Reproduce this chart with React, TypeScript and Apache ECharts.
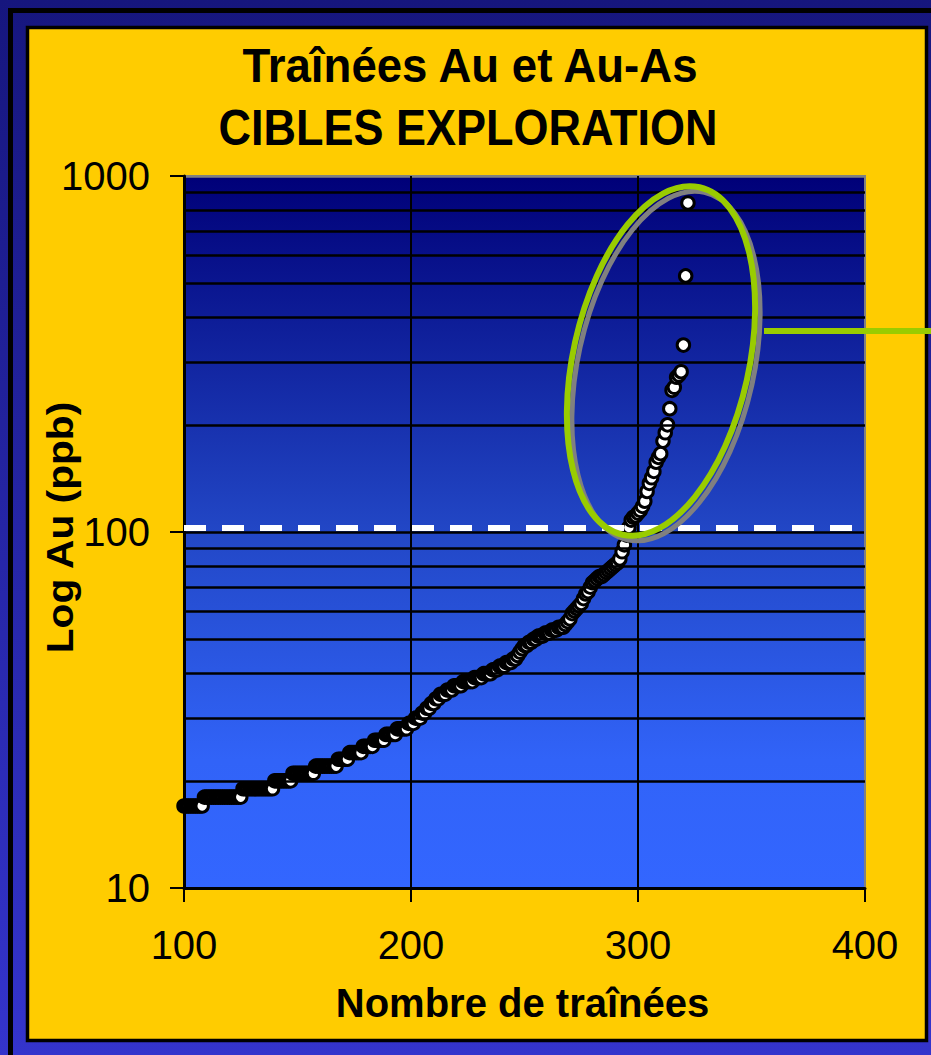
import React, { useEffect, useRef } from "react";
import * as echarts from "echarts";

// ---- data ----
const X_START = 100; // first rank on the x axis (Nombre de traînées)
const AU_LOW = [
  17, 17, 17, 17, 17, 17, 17, 17, 17,
  18, 18, 18, 18, 18, 18, 18, 18, 18, 18, 18, 18, 18, 18, 18, 18, 18,
  19, 19, 19, 19, 19, 19, 19, 19, 19, 19, 19, 19, 19, 19,
  20, 20, 20, 20, 20, 20, 20, 20,
  21, 21, 21, 21, 21, 21, 21, 21, 21, 21,
  22, 22, 22, 22, 22, 22, 22, 22, 22, 22,
];
const AU_MID = [
  23, 23, 23, 23, 23,
  24, 24, 24, 24, 24, 24,
  25, 25, 25, 25, 25,
  26, 26, 26, 26, 26,
  27, 27, 27, 27, 27,
  28, 28, 28, 28, 28,
  29, 29, 29, 30, 30, 30, 31, 31, 32, 32, 33, 33, 34, 34,
  35, 35, 35, 36, 36, 36, 37, 37, 37, 37,
  38, 38, 38, 38, 38, 39, 39, 39, 39, 40, 40, 40, 40,
  41, 41, 41, 42, 42, 42, 43, 43, 43, 44, 44, 45, 46, 47,
  48, 48, 49, 49, 50, 50, 51, 51, 51, 52, 52, 52, 53, 53, 53, 54, 54, 54,
];
const AU_HIGH = [
  55, 56, 57, 59, 60, 61, 62, 63, 65, 67,
  68, 70, 72, 73, 74, 75, 75, 76, 77, 78,
  79, 80, 81, 82, 84, 88, 92, 98, 103, 108,
  110, 111, 113, 115, 118, 122, 130, 137, 142, 148,
  157, 162, 166, 180, 190, 200, 222, 250, 255, 272,
  276, 282, 335, 524, 840,
];
const AU_PPB = [...AU_LOW, ...AU_MID, ...AU_HIGH];

const X_TICKS = [100, 200, 300, 400];
const Y_TICKS = [10, 100, 1000];
const MINOR_GRID = [20, 30, 40, 50, 60, 70, 80, 90, 200, 300, 400, 500, 600, 700, 800, 900];
const THRESHOLD = 103;

const TITLE_1 = "Traînées Au et Au-As";
const TITLE_2 = "CIBLES EXPLORATION";
const X_NAME = "Nombre de traînées";
const Y_NAME = "Log Au (ppb)";

const FONT = "'Liberation Sans', Arial, sans-serif";

export default function App() {
  const ref = useRef<HTMLDivElement>(null);

  useEffect(() => {
    if (!ref.current) return;
    const chart = echarts.init(ref.current, null, { renderer: "svg" });
    const points = AU_PPB.map((v, i) => [X_START + i, v]);

    chart.setOption({
      animation: false,
      grid: {
        left: 184,
        top: 176,
        right: 66,
        bottom: 167,
        show: true,
        borderColor: "#808080",
        borderWidth: 2,
        backgroundColor: new echarts.graphic.LinearGradient(0, 0, 0, 1, [
          { offset: 0, color: "#000078" },
          { offset: 0.5, color: "#2247c6" },
          { offset: 0.82, color: "#3163f8" },
          { offset: 1, color: "#3366ff" },
        ]),
      },
      xAxis: {
        type: "value",
        min: X_TICKS[0],
        max: X_TICKS[X_TICKS.length - 1],
        interval: 100,
        axisLine: { show: true, lineStyle: { color: "#000", width: 3 } },
        axisTick: { show: true, inside: false, length: 14, lineStyle: { color: "#000", width: 2 } },
        axisLabel: {
          show: true,
          margin: 37,
          fontSize: 40,
          lineHeight: 40,
          color: "#000",
          fontFamily: FONT,
          formatter: (v: number) => (X_TICKS.includes(v) ? String(v) : ""),
        },
        splitLine: {
          show: true,
          lineStyle: { color: ["#000", "#000", "#000", "#808080"], width: 2 },
        },
      },
      yAxis: {
        type: "log",
        logBase: 10,
        min: Y_TICKS[0],
        max: Y_TICKS[Y_TICKS.length - 1],
        axisLine: { show: true, lineStyle: { color: "#000", width: 3 } },
        axisTick: { show: true, inside: false, length: 14, lineStyle: { color: "#000", width: 2 } },
        axisLabel: {
          show: true,
          margin: 34,
          fontSize: 40,
          color: "#000",
          fontFamily: FONT,
          formatter: (v: number) => String(Math.round(v)),
        },
        splitLine: {
          show: true,
          lineStyle: { color: ["#000", "#000", "#808080"], width: 2.5 },
        },
        minorTick: { show: false },
      },
      series: [
        {
          type: "line",
          data: [],
          z: 1,
          silent: true,
          markLine: {
            silent: true,
            symbol: ["none", "none"],
            label: { show: false },
            lineStyle: { color: "#000", width: 2.5, type: "solid" },
            data: MINOR_GRID.map((v) => ({ yAxis: v })),
          },
        },
        {
          type: "line",
          data: [],
          z: 1,
          silent: true,
          markLine: {
            silent: true,
            symbol: ["none", "none"],
            label: { show: false },
            lineStyle: { color: "#fff", width: 6, type: [22, 16] },
            data: [{ yAxis: THRESHOLD }],
          },
        },
        {
          type: "scatter",
          data: points,
          z: 3,
          symbol: "circle",
          symbolSize: 12.5,
          itemStyle: { color: "#fff", borderColor: "#000", borderWidth: 3, opacity: 1 },
        },
      ],
      graphic: [
        {
          type: "rect",
          z: -20,
          silent: true,
          shape: { x: 0, y: 0, width: 931, height: 1055 },
          style: {
            fill: new echarts.graphic.LinearGradient(0, 0, 0, 1, [
              { offset: 0, color: "#16167e" },
              { offset: 1, color: "#3434cc" },
            ]),
          },
        },
        {
          type: "rect",
          z: -19,
          silent: true,
          shape: { x: 10.5, y: 10.5, width: 1000, height: 1100 },
          style: { fill: "none", stroke: "#000", lineWidth: 5 },
        },
        {
          type: "rect",
          z: -18,
          silent: true,
          shape: { x: 27.5, y: 27.5, width: 899, height: 1013 },
          style: { fill: "#ffcc00", stroke: "#000", lineWidth: 3.5 },
        },
        {
          type: "text",
          z: 50,
          x: 470,
          y: 65.5,
          scaleX: 0.95,
          style: {
            text: TITLE_1,
            x: 0,
            y: 0,
            align: "center",
            verticalAlign: "middle",
            fontSize: 48,
            fontWeight: "bold",
            fontFamily: FONT,
            fill: "#000",
          },
        },
        {
          type: "text",
          z: 50,
          x: 468,
          y: 127.5,
          scaleX: 0.9,
          style: {
            text: TITLE_2,
            x: 0,
            y: 0,
            align: "center",
            verticalAlign: "middle",
            fontSize: 50,
            fontWeight: "bold",
            fontFamily: FONT,
            fill: "#000",
          },
        },
        {
          type: "text",
          z: 50,
          x: 522.5,
          y: 1002.5,
          style: {
            text: X_NAME,
            x: 0,
            y: 0,
            align: "center",
            verticalAlign: "middle",
            fontSize: 40,
            fontWeight: "bold",
            fontFamily: FONT,
            fill: "#000",
          },
        },
        {
          type: "text",
          z: 50,
          x: 60,
          y: 527.5,
          rotation: Math.PI / 2,
          scaleX: 1.1,
          style: {
            text: Y_NAME,
            x: 0,
            y: 0,
            align: "center",
            verticalAlign: "middle",
            fontSize: 37,
            fontWeight: "bold",
            fontFamily: FONT,
            fill: "#000",
          },
        },
        {
          type: "ellipse",
          z: 60,
          silent: true,
          x: 666,
          y: 366,
          rotation: (-12.5 * Math.PI) / 180,
          shape: { cx: 0, cy: 0, rx: 88, ry: 178 },
          style: { fill: "none", stroke: "#808080", lineWidth: 5 },
        },
        {
          type: "ellipse",
          z: 61,
          silent: true,
          x: 661,
          y: 361,
          rotation: (-12.5 * Math.PI) / 180,
          shape: { cx: 0, cy: 0, rx: 88, ry: 178 },
          style: { fill: "none", stroke: "#99cc00", lineWidth: 6 },
        },
        {
          type: "line",
          z: 61,
          silent: true,
          shape: { x1: 764, y1: 331, x2: 931, y2: 331 },
          style: { stroke: "#99cc00", lineWidth: 6 },
        },
      ],
    });

    return () => chart.dispose();
  }, []);

  return (
    <div
      ref={ref}
      style={{ position: "absolute", left: 0, top: 0, width: 931, height: 1055 }}
    />
  );
}
